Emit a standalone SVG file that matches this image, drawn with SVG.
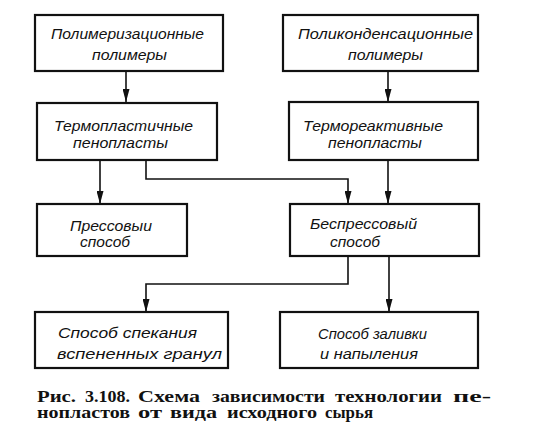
<svg xmlns="http://www.w3.org/2000/svg" width="543" height="430" viewBox="0 0 543 430">
<style>
.box{fill:#fff;stroke:#111;stroke-width:2.2}
.lbl{font-family:"Liberation Sans",Arial,sans-serif;font-style:italic;font-size:15.5px;fill:#111}
.con{fill:none;stroke:#111;stroke-width:1.6}
.cap{font-family:"Liberation Serif","Times New Roman",serif;font-weight:bold;font-size:16px;fill:#111}
</style>
<defs>
<marker id="ah" markerUnits="userSpaceOnUse" markerWidth="13" markerHeight="7" refX="13" refY="3.5" orient="auto" viewBox="0 0 13 7">
<path d="M0,0 L13,3.5 L0,7 Z" fill="#111"/>
</marker>
</defs>
<rect width="543" height="430" fill="#fff"/>
<g id="connectors">
<path class="con" d="M126,71 V102" marker-end="url(#ah)"/>
<path class="con" d="M388,71 V102" marker-end="url(#ah)"/>
<path class="con" d="M100,160 V204" marker-end="url(#ah)"/>
<path class="con" d="M146,160 V179 H348 V204" marker-end="url(#ah)"/>
<path class="con" d="M388,160 V204" marker-end="url(#ah)"/>
<path class="con" d="M348,256 V284 H146 V312" marker-end="url(#ah)"/>
<path class="con" d="M389,256 V312" marker-end="url(#ah)"/>
</g>
<g id="n1">
<rect class="box" x="35" y="15" width="188" height="56"/>
<text class="lbl" x="51" y="39" textLength="153" lengthAdjust="spacingAndGlyphs">Полимеризационные</text>
<text class="lbl" x="92" y="60" textLength="75" lengthAdjust="spacingAndGlyphs">полимеры</text>
</g>
<g id="n2">
<rect class="box" x="283" y="15" width="195" height="56"/>
<text class="lbl" x="298" y="39" textLength="175" lengthAdjust="spacingAndGlyphs">Поликонденсационные</text>
<text class="lbl" x="348" y="60" textLength="75" lengthAdjust="spacingAndGlyphs">полимеры</text>
</g>
<g id="n3">
<rect class="box" x="37" y="103" width="180" height="57"/>
<text class="lbl" x="54" y="131" textLength="139" lengthAdjust="spacingAndGlyphs">Термопластичные</text>
<text class="lbl" x="73" y="148" textLength="95" lengthAdjust="spacingAndGlyphs">пенопласты</text>
</g>
<g id="n4">
<rect class="box" x="289" y="102" width="189" height="58"/>
<text class="lbl" x="303" y="131" textLength="140" lengthAdjust="spacingAndGlyphs">Термореактивные</text>
<text class="lbl" x="328" y="148" textLength="94" lengthAdjust="spacingAndGlyphs">пенопласты</text>
</g>
<g id="n5">
<rect class="box" x="37" y="204" width="150" height="52"/>
<text class="lbl" x="70" y="231" textLength="82" lengthAdjust="spacingAndGlyphs">Прессовыи</text>
<text class="lbl" x="80" y="247" textLength="50" lengthAdjust="spacingAndGlyphs">способ</text>
</g>
<g id="n6">
<rect class="box" x="290" y="204" width="189" height="52"/>
<text class="lbl" x="310" y="229" textLength="107" lengthAdjust="spacingAndGlyphs">Беспрессовый</text>
<text class="lbl" x="330" y="247" textLength="50" lengthAdjust="spacingAndGlyphs">способ</text>
</g>
<g id="n7">
<rect class="box" x="35" y="312" width="193" height="56"/>
<text class="lbl" x="58" y="338" textLength="139" lengthAdjust="spacingAndGlyphs">Способ  спекания</text>
<text class="lbl" x="57" y="359" textLength="165" lengthAdjust="spacingAndGlyphs">вспененных  гранул</text>
</g>
<g id="n8">
<rect class="box" x="280" y="312" width="198" height="56"/>
<text class="lbl" x="318" y="339" textLength="109" lengthAdjust="spacingAndGlyphs">Способ  заливки</text>
<text class="lbl" x="320" y="359" textLength="98" lengthAdjust="spacingAndGlyphs">и  напыления</text>
</g>
<g id="caption">
<text class="cap" y="401.5"><tspan x="37" textLength="39" lengthAdjust="spacingAndGlyphs">Рис.</tspan><tspan x="85" textLength="45" lengthAdjust="spacingAndGlyphs">3.108.</tspan><tspan x="138" textLength="62" lengthAdjust="spacingAndGlyphs">Схема</tspan><tspan x="212" textLength="113" lengthAdjust="spacingAndGlyphs">зависимости</tspan><tspan x="335" textLength="107" lengthAdjust="spacingAndGlyphs">технологии</tspan><tspan x="453" textLength="38" lengthAdjust="spacingAndGlyphs">пе-</tspan></text>
<text class="cap" y="418"><tspan x="37" textLength="93" lengthAdjust="spacingAndGlyphs">нопластов</tspan><tspan x="138" textLength="24" lengthAdjust="spacingAndGlyphs">от</tspan><tspan x="170" textLength="47" lengthAdjust="spacingAndGlyphs">вида</tspan><tspan x="227" textLength="90" lengthAdjust="spacingAndGlyphs">исходного</tspan><tspan x="325" textLength="48" lengthAdjust="spacingAndGlyphs">сырья</tspan></text>
</g>
</svg>
